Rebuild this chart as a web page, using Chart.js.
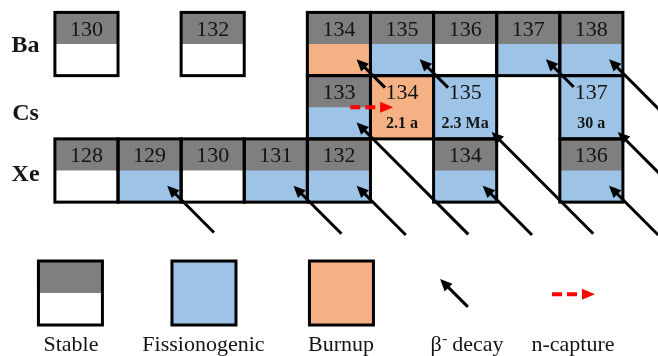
<!DOCTYPE html>
<html>
<head>
<meta charset="utf-8">
<title>Xe–Cs–Ba nuclide chart</title>
<script src="https://cdn.jsdelivr.net/npm/chart.js@4.4.1/dist/chart.umd.min.js"></script>
<style>
  html, body { margin: 0; padding: 0; background: #ffffff; }
  #wrap { width: 658px; height: 356px; position: relative; }
</style>
</head>
<body>
<div id="wrap"><canvas id="chart"></canvas></div>
<script>
// ---- Data ---------------------------------------------------------------
// Rows of the chart: element symbols and their proton numbers
const elementSymbols = ['Xe', 'Cs', 'Ba'];
const protonNumbers = [54, 55, 56];

// Nuclides on each row (mass numbers), their category and half-life label
const xeMasses = [128, 129, 130, 131, 132, 134, 136];
const xeKinds = ['stable', 'stableFission', 'stable', 'stableFission', 'stableFission', 'stableFission', 'stableFission'];
const xeHalfLives = [null, null, null, null, null, null, null];

const csMasses = [133, 134, 135, 137];
const csKinds = ['stableFission', 'burnup', 'fission', 'fission'];
const csHalfLives = [null, '2.1 a', '2.3 Ma', '30 a'];

const baMasses = [130, 132, 134, 135, 136, 137, 138];
const baKinds = ['stable', 'stable', 'stableBurnup', 'stableFission', 'stable', 'stableFission', 'stableFission'];
const baHalfLives = [null, null, null, null, null, null, null];

// β⁻ decay feeding each daughter: [symbol, mass, reach of incoming arrow in cells]
const betaFeeds = [
  ['Xe', 129, 0.74], ['Xe', 131, 0.76], ['Xe', 132, 0.78], ['Xe', 134, 0.78], ['Xe', 136, 0.78],
  ['Cs', 133, 1.77], ['Cs', 135, 1.61], ['Cs', 137, 1.61],
  ['Ba', 134, 0.45], ['Ba', 135, 0.45], ['Ba', 137, 0.44], ['Ba', 138, 1.61]
];

// Neutron capture: [symbol, mass of target]
const captureFeeds = [['Cs', 133]];

// Legend entries
const legendLabels = ['Stable', 'Fissionogenic', 'Burnup', 'β- decay', 'n-capture'];
const legendKinds = ['stable', 'fission', 'burnup', 'beta', 'capture'];

// ---- Styling / layout ---------------------------------------------------
const FONT = '"Liberation Serif", "Times New Roman", Times, serif';
const COLORS = {
  grey: '#7f7f7f', blue: '#9dc3e6', orange: '#f4b183', white: '#ffffff',
  ink: '#141414', red: '#ff0000', border: '#000000'
};
const KIND_FILL = {
  stable: [COLORS.grey, COLORS.white],
  stableFission: [COLORS.grey, COLORS.blue],
  stableBurnup: [COLORS.grey, COLORS.orange],
  fission: [COLORS.blue, COLORS.blue],
  burnup: [COLORS.orange, COLORS.orange]
};
// axis ranges in (N, Z) space: each cell spans N±0.5, Z±0.5
const X_RANGE = [72.63, 83.056];
const Y_RANGE = [51.067, 56.696];
// row-label vertical nudges (cells) and horizontal anchor (N)
const ROW_LABEL_N = 73.035;
const ROW_LABEL_DZ = { Xe: -0.03, Cs: -0.065, Ba: 0.0 };
// arrow tip inset from a cell's lower-right corner (cells)
const TIP_INSET = { plain: [0.22, 0.26], timed: [0.08, 0.11] };
// legend placement in (N, Z) space
const LEGEND_BOX_Z = 52.063;
const LEGEND_LABEL_Z = 51.26;
const LEGEND_MARK_N = [73.746, 75.862, 78.04, 79.823, 81.717];
const LEGEND_LABEL_N = [73.754, 75.854, 78.033, 80.03, 81.709];

const rows = [
  { symbol: elementSymbols[0], z: protonNumbers[0], masses: xeMasses, kinds: xeKinds, halfLives: xeHalfLives },
  { symbol: elementSymbols[1], z: protonNumbers[1], masses: csMasses, kinds: csKinds, halfLives: csHalfLives },
  { symbol: elementSymbols[2], z: protonNumbers[2], masses: baMasses, kinds: baKinds, halfLives: baHalfLives }
];
const zOf = sym => protonNumbers[elementSymbols.indexOf(sym)];
const rowOf = sym => rows[elementSymbols.indexOf(sym)];

// ---- Drawing helpers ----------------------------------------------------
function drawArrow(ctx, x0, y0, x1, y1, opt) {
  const dx = x1 - x0, dy = y1 - y0;
  const len = Math.hypot(dx, dy);
  const ux = dx / len, uy = dy / len;
  const bx = x1 - ux * opt.headLen, by = y1 - uy * opt.headLen;
  ctx.save();
  ctx.strokeStyle = opt.color;
  ctx.fillStyle = opt.color;
  ctx.lineWidth = opt.width;
  ctx.lineCap = 'butt';
  ctx.setLineDash(opt.dash || []);
  ctx.beginPath();
  ctx.moveTo(x0, y0);
  ctx.lineTo(bx + ux * 1, by + uy * 1);
  ctx.stroke();
  ctx.setLineDash([]);
  ctx.beginPath();
  ctx.moveTo(x1, y1);
  ctx.lineTo(bx - uy * opt.headW / 2, by + ux * opt.headW / 2);
  ctx.lineTo(bx + uy * opt.headW / 2, by - ux * opt.headW / 2);
  ctx.closePath();
  ctx.fill();
  ctx.restore();
}

const BETA_STYLE = { color: '#000000', width: 3, headLen: 12, headW: 11 };
const CAPTURE_STYLE = { color: COLORS.red, width: 4, headLen: 13, headW: 11, dash: [10, 5] };

function cellRect(chart, n, z, w, h) {
  const xs = chart.scales.x, ys = chart.scales.y;
  const hw = (w || 1) / 2, hh = (h || 1) / 2;
  const x0 = xs.getPixelForValue(n - hw), x1 = xs.getPixelForValue(n + hw);
  const y0 = ys.getPixelForValue(z + hh), y1 = ys.getPixelForValue(z - hh);
  return { x: x0, y: y0, w: x1 - x0, h: y1 - y0 };
}

function fillCell(ctx, r, kind) {
  const [top, bottom] = KIND_FILL[kind];
  ctx.fillStyle = bottom;
  ctx.fillRect(r.x, r.y, r.w, r.h);
  ctx.fillStyle = top;
  ctx.fillRect(r.x, r.y, r.w, r.h / 2);
}

function strokeCell(ctx, r) {
  ctx.save();
  ctx.strokeStyle = COLORS.border;
  ctx.lineWidth = 3;
  ctx.strokeRect(r.x, r.y, r.w, r.h);
  ctx.restore();
}

function centeredText(ctx, text, x, yMid, font, size) {
  ctx.font = font;
  ctx.textAlign = 'center';
  ctx.textBaseline = 'alphabetic';
  ctx.fillText(text, x, yMid + size * 0.34);
}

// ---- Plugin drawing the nuclide chart via the chart scales --------------
const nuclidePlugin = {
  id: 'nuclideChart',
  afterDraw(chart) {
    const ctx = chart.ctx;
    const xs = chart.scales.x, ys = chart.scales.y;
    ctx.save();

    const cells = [];
    rows.forEach(row => {
      row.masses.forEach((a, i) => {
        cells.push({ n: a - row.z, z: row.z, a, kind: row.kinds[i], half: row.halfLives[i] });
      });
    });

    // fills then borders
    cells.forEach(c => fillCell(ctx, cellRect(chart, c.n, c.z), c.kind));
    cells.forEach(c => strokeCell(ctx, cellRect(chart, c.n, c.z)));

    // mass numbers and half-lives
    ctx.fillStyle = COLORS.ink;
    cells.forEach(c => {
      const r = cellRect(chart, c.n, c.z);
      const cx = r.x + r.w / 2;
      centeredText(ctx, String(c.a), cx, r.y + r.h * 0.25, '22px ' + FONT, 22);
      if (c.half) {
        centeredText(ctx, c.half, cx, r.y + r.h * 0.74, 'bold 16px ' + FONT, 16);
      }
    });

    // element labels
    rows.forEach(row => {
      const x = xs.getPixelForValue(ROW_LABEL_N);
      const y = ys.getPixelForValue(row.z + ROW_LABEL_DZ[row.symbol]);
      centeredText(ctx, row.symbol, x, y, 'bold 24px ' + FONT, 24);
    });

    // β⁻ decay arrows
    betaFeeds.forEach(([sym, a, reach]) => {
      const z = zOf(sym), n = a - z;
      const row = rowOf(sym);
      const timed = !!row.halfLives[row.masses.indexOf(a)];
      const inset = timed ? TIP_INSET.timed : TIP_INSET.plain;
      const tipN = n + 0.5 - inset[0], tipZ = z - 0.5 + inset[1];
      drawArrow(ctx,
        xs.getPixelForValue(tipN + reach), ys.getPixelForValue(tipZ - reach),
        xs.getPixelForValue(tipN), ys.getPixelForValue(tipZ), BETA_STYLE);
    });

    // neutron capture arrows
    captureFeeds.forEach(([sym, a]) => {
      const z = zOf(sym), n = a - z;
      drawArrow(ctx,
        xs.getPixelForValue(n + 0.18), ys.getPixelForValue(z),
        xs.getPixelForValue(n + 0.86), ys.getPixelForValue(z), CAPTURE_STYLE);
    });

    // legend
    legendKinds.forEach((kind, i) => {
      const mN = LEGEND_MARK_N[i];
      if (KIND_FILL[kind]) {
        const r = cellRect(chart, mN, LEGEND_BOX_Z, 1.014, 1.012);
        fillCell(ctx, r, kind);
        strokeCell(ctx, r);
      } else if (kind === 'beta') {
        const h = 0.22;
        drawArrow(ctx,
          xs.getPixelForValue(mN + h), ys.getPixelForValue(LEGEND_BOX_Z - h),
          xs.getPixelForValue(mN - h), ys.getPixelForValue(LEGEND_BOX_Z + h), BETA_STYLE);
      } else if (kind === 'capture') {
        drawArrow(ctx,
          xs.getPixelForValue(mN - 0.34), ys.getPixelForValue(LEGEND_BOX_Z - 0.02),
          xs.getPixelForValue(mN + 0.34), ys.getPixelForValue(LEGEND_BOX_Z - 0.02), CAPTURE_STYLE);
      }

      const lx = xs.getPixelForValue(LEGEND_LABEL_N[i]);
      const ly = ys.getPixelForValue(LEGEND_LABEL_Z);
      const label = legendLabels[i];
      ctx.fillStyle = COLORS.ink;
      if (kind === 'beta') {
        // β with superscript minus
        const parts = label.split('- ');
        const main = '22px ' + FONT, sup = '15px ' + FONT;
        ctx.font = main; const w1 = ctx.measureText(parts[0]).width;
        ctx.font = sup; const w2 = ctx.measureText('-').width;
        ctx.font = main; const w3 = ctx.measureText(' ' + parts[1]).width;
        let x = lx - (w1 + w2 + w3) / 2;
        const base = ly + 22 * 0.34;
        ctx.textAlign = 'left'; ctx.textBaseline = 'alphabetic';
        ctx.font = main; ctx.fillText(parts[0], x, base); x += w1;
        ctx.font = sup; ctx.fillText('-', x + 0.5, base - 8); x += w2;
        ctx.font = main; ctx.fillText(' ' + parts[1], x, base);
      } else {
        centeredText(ctx, label, lx, ly, '22px ' + FONT, 22);
      }
    });

    ctx.restore();
  }
};

new Chart(document.getElementById('chart'), {
  type: 'scatter',
  data: { datasets: [] },
  options: {
    responsive: true,
    maintainAspectRatio: false,
    animation: false,
    events: [],
    layout: { padding: 0 },
    plugins: { legend: { display: false }, tooltip: { enabled: false } },
    scales: {
      x: { type: 'linear', min: X_RANGE[0], max: X_RANGE[1], display: false },
      y: { type: 'linear', min: Y_RANGE[0], max: Y_RANGE[1], display: false }
    }
  },
  plugins: [nuclidePlugin]
});
</script>
</body>
</html>
